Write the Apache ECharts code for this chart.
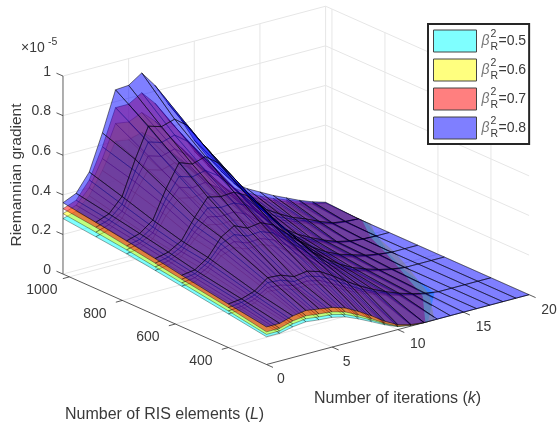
<!DOCTYPE html>
<html><head><meta charset="utf-8">
<style>html,body{margin:0;padding:0;background:#fff}#c{width:559px;height:426px}</style>
<script src="https://cdn.jsdelivr.net/npm/echarts@6/dist/echarts.min.js"></script>
</head><body><div id="c"></div>
<script>
// iterations (k) and RIS elements (L), rows ordered from far (1024) to near (256)
const kValues=[0,1,2,3,4,5,6,7,8,9,10,11,12,13,14,15,16,17,18,19,20];
const lValues=[1024,900,784,676,576,400,256];
// Gradient values in units of 1e-5, one row per L, one column per k
const zCyan=[
[.28,.30,.36,.47,.60,.59,.61,.56,.49,.42,.34,.27,.21,.155,.125,.10,.08,.055,.035,.017,.005],
[.262,.28,.32,.43,.53,.51,.53,.49,.42,.355,.285,.22,.165,.12,.09,.065,.048,.027,.008,.002,0],
[.245,.255,.285,.385,.455,.44,.45,.41,.355,.29,.22,.16,.11,.08,.055,.035,.018,.006,.001,0,0],
[.225,.235,.26,.33,.385,.37,.375,.345,.295,.24,.18,.13,.095,.065,.044,.027,.013,.004,0,0,0],
[.205,.21,.24,.305,.33,.305,.31,.285,.245,.20,.15,.11,.077,.05,.032,.018,.006,0,0,0,0],
[.17,.175,.19,.23,.225,.205,.21,.195,.165,.13,.10,.075,.052,.033,.018,.006,0,0,0,0,0],
[.14,.14,.155,.163,.155,.15,.135,.107,.075,.042,.015,.004,0,0,0,0,0,0,0,0,0]];
const zYellow=[
[.305,.33,.40,.53,.69,.68,.71,.65,.56,.48,.39,.31,.24,.18,.145,.115,.09,.065,.04,.02,.006],
[.285,.305,.355,.485,.60,.58,.60,.55,.47,.40,.32,.25,.19,.135,.10,.075,.055,.03,.01,.002,0],
[.265,.28,.315,.43,.51,.49,.50,.455,.395,.325,.245,.18,.125,.09,.062,.04,.02,.007,.001,0,0],
[.243,.255,.285,.365,.425,.41,.415,.385,.33,.265,.20,.145,.105,.072,.05,.03,.015,.005,0,0,0],
[.222,.23,.265,.335,.36,.335,.34,.315,.27,.22,.165,.12,.085,.055,.036,.02,.007,0,0,0,0],
[.185,.19,.21,.25,.245,.225,.23,.215,.18,.145,.11,.082,.057,.036,.02,.007,0,0,0,0,0],
[.152,.152,.17,.178,.17,.164,.147,.117,.083,.046,.016,.004,0,0,0,0,0,0,0,0,0]];
const zRed=[
[.33,.355,.44,.59,.77,.77,.81,.74,.64,.55,.445,.355,.275,.205,.165,.13,.10,.075,.05,.025,.008],
[.31,.33,.39,.54,.67,.65,.67,.62,.535,.455,.365,.285,.215,.15,.115,.085,.06,.035,.012,.003,0],
[.285,.30,.345,.47,.565,.545,.56,.515,.445,.365,.275,.205,.14,.10,.07,.045,.022,.008,.002,0,0],
[.262,.275,.31,.40,.47,.455,.46,.43,.365,.295,.22,.16,.115,.08,.055,.035,.017,.006,0,0,0],
[.24,.25,.29,.365,.395,.37,.375,.35,.295,.24,.18,.135,.095,.06,.04,.022,.008,0,0,0,0],
[.202,.21,.23,.275,.27,.245,.255,.235,.20,.16,.12,.09,.063,.04,.022,.008,0,0,0,0,0],
[.165,.165,.185,.193,.185,.178,.16,.127,.09,.05,.018,.005,0,0,0,0,0,0,0,0,0]];
const zBlue=[
[.36,.39,.48,.66,.86,.865,.91,.83,.72,.62,.50,.40,.31,.23,.185,.15,.115,.085,.055,.03,.01],
[.335,.36,.43,.60,.75,.73,.75,.70,.60,.51,.41,.32,.24,.17,.13,.095,.07,.04,.015,.005,0],
[.31,.33,.38,.52,.635,.61,.63,.58,.50,.41,.31,.23,.16,.115,.08,.05,.025,.01,.003,0,0],
[.285,.30,.34,.44,.525,.51,.515,.48,.41,.33,.25,.18,.13,.09,.06,.04,.02,.008,0,0,0],
[.26,.27,.315,.40,.44,.41,.42,.39,.33,.27,.20,.15,.105,.07,.045,.025,.01,0,0,0,0],
[.22,.228,.25,.30,.295,.27,.28,.26,.22,.175,.135,.10,.07,.045,.025,.01,0,0,0,0,0],
[.19,.19,.21,.22,.21,.20,.18,.145,.105,.06,.025,.008,0,0,0,0,0,0,0,0,0]];
// k at which each lower layer sinks into the floor plane, per L row
const reachCyan=[21,20.3,19.1,17.8,16.8,15.7,12.3];
const reachYellow=[21,20.7,19.0,18.2,17.2,15.3,12.8];
const reachRed=[21,20.2,18.6,17.6,16.6,14.8,12.1];
const legendNames=['0.5','0.6','0.7','0.8'];
const colors=['rgba(0,255,255,.5)','rgba(255,255,0,.5)','rgba(255,0,0,.5)','rgba(0,0,255,.5)'];
const zTicks=[0,.2,.4,.6,.8,1];
const zTickLabels=['0','0.2','0.4','0.6','0.8','1'];
const kTicks=[0,5,10,15,20];
const lTicks=[400,600,800,1000];

// orthographic view of the 3D box, expressed through the hidden 2D axes
const O={x:266.5,y:364.5},dK={x:13.13,y:-3.49},dL={x:-.265,y:-.1178},dZ=-198;
const proj=(k,L,z)=>[O.x+k*dK.x+(L-256)*dL.x, O.y+k*dK.y+(L-256)*dL.y+z*dZ];

function cellData(m){
  const out=[];
  for(let i=0;i<lValues.length-1;i++)for(let j=kValues.length-2;j>=0;j--)
    out.push([kValues[j],kValues[j+1],lValues[i],lValues[i+1],m[i][j],m[i][j+1],m[i+1][j+1],m[i+1][j]]);
  return out;
}
function clipPts(reach,api){
  if(!reach)return null;
  const p=lValues.map((L,i)=>proj(reach[i],L,0));
  const last=p[0];
  const pts=[[p[p.length-1][0]+3,426],...p.slice().reverse(),[last[0],0],[0,0],[0,426]];
  return pts.map(q=>api.coord(q));
}
function surface(name,m,color,reach,lw){
  return {type:'custom',name,coordinateSystem:'cartesian2d',silent:true,clip:false,
    itemStyle:{color},data:cellData(m),
    encode:{x:0,y:1},
    renderItem(params,api){
      const v=i=>api.value(i);
      const pts=[proj(v(0),v(2),v(4)),proj(v(1),v(2),v(5)),proj(v(1),v(3),v(6)),proj(v(0),v(3),v(7))].map(q=>api.coord(q));
      const el={type:'polygon',shape:{points:pts},style:{fill:color,stroke:'rgba(0,0,0,.85)',lineWidth:lw}};
      const c=clipPts(reach,api);
      if(c)el.clipPath={type:'polygon',shape:{points:c}};
      return el;
    }};
}
// frame: grid lines, axes, ticks and labels
const frameLines=[];
const G='#e6e6e6',A='#303030';
const seg=(a,b,c,w)=>frameLines.push({a,b,c,w});
const Lmax=lValues[0],Lmin=lValues[lValues.length-1];
zTicks.slice(1).forEach(z=>{seg(proj(0,Lmax,z),proj(20,Lmax,z),G,1);seg(proj(20,Lmax,z),proj(20,Lmin,z),G,1);});
seg(proj(0,Lmax,0),proj(20,Lmax,0),G,1);seg(proj(20,Lmax,0),proj(20,Lmin,0),G,1);
kTicks.slice(1).forEach(k=>{seg(proj(k,Lmax,0),proj(k,Lmax,1),G,1);seg(proj(k,Lmin,0),proj(k,Lmax,0),G,1);});
lTicks.forEach(L=>{seg(proj(0,L,0),proj(20,L,0),G,1);seg(proj(20,L,0),proj(20,L,1),G,1);});
seg(proj(0,Lmax,0),proj(0,Lmin,0),A,.8);seg(proj(0,Lmin,0),proj(20,Lmin,0),A,.8);
seg(proj(0,Lmax,0),proj(0,Lmax,1),'#8c8c8c',1.4);
zTicks.forEach(z=>{const p=proj(0,Lmax,z);seg(p,[p[0]-6.5,p[1]-2.8],A,.8);});
lTicks.forEach(L=>{const p=proj(0,L,0);seg(p,[p[0]-6.5,p[1]+1.8],A,.8);});
kTicks.forEach(k=>{const p=proj(k,Lmin,0);seg(p,[p[0]+6.5,p[1]+2.9],A,.8);});
const frameSeries={type:'custom',coordinateSystem:'cartesian2d',silent:true,clip:false,
  data:frameLines.map((_,i)=>[i,i]),encode:{x:0,y:1},
  renderItem(params,api){
    const s=frameLines[params.dataIndex],a=api.coord(s.a),b=api.coord(s.b);
    return {type:'line',shape:{x1:a[0],y1:a[1],x2:b[0],y2:b[1]},style:{stroke:s.c,lineWidth:s.w}};
  }};
const F='"Liberation Sans",Arial,sans-serif',T='#3a3a3a';
const txt=(text,x,y,fs,extra)=>({type:'text',x,y,style:Object.assign({text,fill:T,font:fs+'px '+F,textAlign:'center',textVerticalAlign:'middle'},extra||{}),silent:true});
const labelEls=[];
zTicks.forEach((z,i)=>{const p=proj(0,Lmax,z);labelEls.push(txt(zTickLabels[i],p[0]-12,p[1]-4,14,{textAlign:'right'}));});
lTicks.forEach(L=>{const p=proj(0,L,0);labelEls.push(txt(String(L),p[0]-27.5,p[1]+13.5,14));});
kTicks.forEach(k=>{const p=proj(k,Lmin,0);labelEls.push(txt(String(k),p[0]+(k>5?20:14.5),p[1]+15,14));});
labelEls.push(txt('Riemannian gradient',17,175,15.5,{}));
labelEls[labelEls.length-1].rotation=Math.PI/2;
labelEls.push({type:'text',x:65,y:415,silent:true,style:{text:'{a|Number of RIS elements (}{i|L}{a|)}',rich:{a:{fontSize:16,fontFamily:F,fill:T},i:{fontSize:16,fontStyle:'italic',fontFamily:F,fill:T}},textVerticalAlign:'middle'}});
labelEls.push({type:'text',x:314,y:399,silent:true,style:{text:'{a|Number of iterations (}{i|k}{a|)}',rich:{a:{fontSize:16,fontFamily:F,fill:T},i:{fontSize:16,fontStyle:'italic',fontFamily:F,fill:T}},textVerticalAlign:'middle'}});
labelEls.push(txt('×10',21,48,14,{textAlign:'left'}));
labelEls.push(txt('-5',48,42,10.5,{textAlign:'left'}));

const chart=echarts.init(document.getElementById('c'),null,{renderer:'canvas'});
chart.setOption({
  animation:false,
  grid:{left:0,right:0,top:0,bottom:0},
  xAxis:{type:'value',min:0,max:559,show:false},
  yAxis:{type:'value',min:0,max:426,inverse:true,show:false},
  legend:{orient:'vertical',left:428,top:24,padding:[5,3,4,5],itemGap:5,itemWidth:43,itemHeight:22,
    backgroundColor:'#fff',borderColor:'#262626',borderWidth:2,icon:'rect',
    itemStyle:{borderColor:'#444',borderWidth:1},selectedMode:false,
    data:legendNames.map(n=>'βR²='+n),
    formatter:n=>'{b|β}{s|2}{r|R}{e|='+n.split('=')[1]+'}',
    textStyle:{rich:{
      b:{fontSize:14,fontStyle:'italic',fontFamily:F,color:'#777',width:9,lineHeight:24},
      s:{fontSize:10.5,fontFamily:F,color:T,width:0,verticalAlign:'top',lineHeight:12},
      r:{fontSize:10.5,fontFamily:F,color:T,width:8,verticalAlign:'bottom',lineHeight:12},
      e:{fontSize:14,fontFamily:F,color:T,lineHeight:24}
    }}},
  series:[frameSeries,
    surface('βR²=0.5',zCyan,colors[0],reachCyan,.42),
    surface('βR²=0.6',zYellow,colors[1],reachYellow,.42),
    surface('βR²=0.7',zRed,colors[2],reachRed,.42),
    surface('βR²=0.8',zBlue,colors[3],null,.6)],
  graphic:{elements:labelEls}
});
</script></body></html>
